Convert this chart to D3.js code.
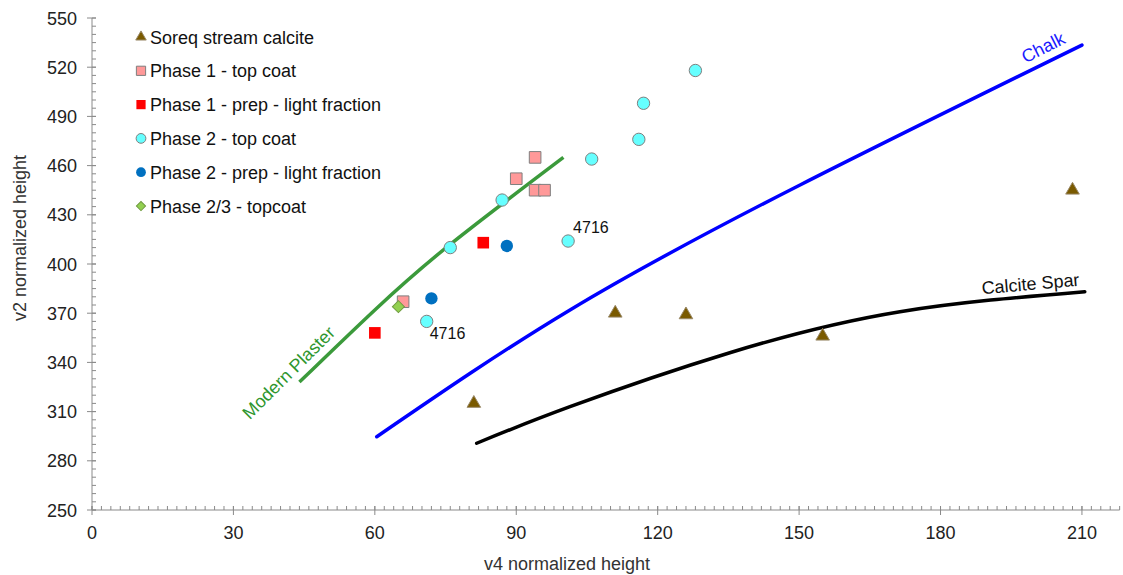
<!DOCTYPE html>
<html lang="en">
<head>
<meta charset="UTF-8">
<title>v2 vs v4 normalized height</title>
<script src="https://d3js.org/d3.v7.min.js"></script>
<style>
  body { margin: 0; background: #fff; font-family: "Liberation Sans", Arial, sans-serif; }
  .tick-label { font-size: 18px; fill: #222; }
  .axis-title { font-size: 18px; fill: #333; }
  .legend text { font-size: 18px; fill: #111; }
</style>
</head>
<body>
<svg width="1123" height="575"></svg>
<script>
// data: [v4, v2]
var soreq      = [[81, 315], [111, 370], [126, 369], [155, 356], [208, 445]];
var p1Top      = [[94, 465], [90, 452], [94, 445], [96, 445], [66, 377]];
var p1Prep     = [[60, 358], [83, 413]];
var p2Top      = [[128, 518], [117, 498], [116, 476], [106, 464], [87, 439], [76, 410], [101, 414], [71, 365]];
var p2Prep     = [[88, 411], [72, 379]];
var p23Top     = [[65, 374]];
var labelled   = [[101, 414, "4716", 5, -8], [71, 365, "4716", 3, 18]];

var plasterCurve = [[44, 328], [60, 372], [76, 412], [100, 465]];
var chalkCurve   = [[60.4, 294.7], [101.4, 372], [150.2, 448.2], [210, 533.5]];
var sparCurve    = [[81.6, 290.7], [101.4, 313], [135.3, 345.9], [171.4, 370.9], [210.6, 383.1]];

var xTicks = [0, 30, 60, 90, 120, 150, 180, 210];
var yTicks = [250, 280, 310, 340, 370, 400, 430, 460, 490, 520, 550];

var svg = d3.select("svg");

var x = d3.scaleLinear().domain([0, 218]).range([92, 92 + 218 * 4.714]);
var y = d3.scaleLinear().domain([250, 550]).range([510, 18]);

var axisColor = "#8a8a8a";
var ax = svg.append("g");

// y axis
ax.append("line").attr("x1", x(0)).attr("x2", x(0)).attr("y1", y(250)).attr("y2", y(550))
    .attr("stroke", axisColor);
ax.selectAll(".ymin").data(d3.range(250, 551, 5)).enter().append("line")
    .attr("x1", x(0)).attr("x2", x(0) + 4)
    .attr("y1", function(d) { return y(d); }).attr("y2", function(d) { return y(d); })
    .attr("stroke", axisColor);
ax.selectAll(".ymaj").data(yTicks).enter().append("line")
    .attr("x1", x(0) - 5).attr("x2", x(0) + 4)
    .attr("y1", function(d) { return y(d); }).attr("y2", function(d) { return y(d); })
    .attr("stroke", axisColor);
ax.selectAll(".ylab").data(yTicks).enter().append("text")
    .attr("class", "tick-label")
    .attr("x", x(0) - 15).attr("y", function(d) { return y(d) + 6.5; })
    .attr("text-anchor", "end")
    .text(function(d) { return d; });

// x axis
ax.append("line").attr("x1", x(0)).attr("x2", x(218)).attr("y1", y(250)).attr("y2", y(250))
    .attr("stroke", axisColor);
ax.selectAll(".xmin").data(d3.range(0, 219, 2)).enter().append("line")
    .attr("x1", function(d) { return x(d); }).attr("x2", function(d) { return x(d); })
    .attr("y1", y(250) - 4).attr("y2", y(250))
    .attr("stroke", axisColor);
ax.selectAll(".xmaj").data(xTicks).enter().append("line")
    .attr("x1", function(d) { return x(d); }).attr("x2", function(d) { return x(d); })
    .attr("y1", y(250) - 4).attr("y2", y(250) + 5)
    .attr("stroke", axisColor);
ax.selectAll(".xlab").data(xTicks).enter().append("text")
    .attr("class", "tick-label")
    .attr("x", function(d) { return x(d); }).attr("y", y(250) + 29)
    .attr("text-anchor", "middle")
    .text(function(d) { return d; });

svg.append("text").attr("class", "axis-title")
    .attr("x", 567).attr("y", 570).attr("text-anchor", "middle")
    .text("v4 normalized height");
svg.append("text").attr("class", "axis-title")
    .attr("transform", "translate(26,238) rotate(-90)").attr("text-anchor", "middle")
    .text("v2 normalized height");

// reference curves
var line = d3.line()
    .x(function(d) { return x(d[0]); })
    .y(function(d) { return y(d[1]); })
    .curve(d3.curveNatural);

svg.append("path").datum(plasterCurve).attr("d", line)
    .attr("fill", "none").attr("stroke", "#3b9a3b").attr("stroke-width", 3.5);
svg.append("path").datum(chalkCurve).attr("d", line)
    .attr("fill", "none").attr("stroke", "#0000ff").attr("stroke-width", 3.5).attr("stroke-linecap", "round");
svg.append("path").datum(sparCurve).attr("d", line)
    .attr("fill", "none").attr("stroke", "#000").attr("stroke-width", 3.5).attr("stroke-linecap", "round");

svg.append("text").attr("transform", "translate(293,377) rotate(-45)")
    .attr("text-anchor", "middle").attr("font-size", 18).attr("fill", "#2e962e")
    .text("Modern Plaster");
svg.append("text").attr("transform", "translate(1046,53) rotate(-27)")
    .attr("text-anchor", "middle").attr("font-size", 18).attr("fill", "#1a1aff")
    .text("Chalk");
svg.append("text").attr("transform", "translate(1031,290) rotate(-5)")
    .attr("text-anchor", "middle").attr("font-size", 18).attr("fill", "#111")
    .text("Calcite Spar");

// series
var series = [
    { name: "Soreq stream calcite", data: soreq, shape: d3.symbolTriangle, size: 80, legSize: 48, fill: "#7a5a00", stroke: "#9a8a6a" },
    { name: "Phase 1 - top coat", data: p1Top, shape: d3.symbolSquare, size: 135, legSize: 85, fill: "#ff9999", stroke: "#7f7f7f" },
    { name: "Phase 1 - prep - light fraction", data: p1Prep, shape: d3.symbolSquare, size: 135, legSize: 85, fill: "#ff0000", stroke: "none" },
    { name: "Phase 2 - top coat", data: p2Top, shape: d3.symbolCircle, size: 120, legSize: 75, fill: "#66ffff", stroke: "#7f7f7f" },
    { name: "Phase 2 - prep - light fraction", data: p2Prep, shape: d3.symbolCircle, size: 120, legSize: 75, fill: "#0070c0", stroke: "none" },
    { name: "Phase 2/3 - topcoat", data: p23Top, shape: d3.symbolSquare, size: 72, legSize: 42, fill: "#92d050", stroke: "#6f9a40", rot: 45 }
];

series.forEach(function(s) {
    var sym = d3.symbol().type(s.shape).size(s.size);
    svg.append("g").selectAll("path").data(s.data).enter().append("path")
        .attr("d", sym)
        .attr("transform", function(d) {
            return "translate(" + x(d[0]) + "," + y(d[1]) + ")" + (s.rot ? " rotate(" + s.rot + ")" : "");
        })
        .attr("fill", s.fill)
        .attr("stroke", s.stroke)
        .attr("stroke-width", 1);
});

svg.append("g").selectAll("text").data(labelled).enter().append("text")
    .attr("x", function(d) { return x(d[0]) + d[3]; })
    .attr("y", function(d) { return y(d[1]) + d[4]; })
    .attr("font-size", 16).attr("fill", "#111")
    .text(function(d) { return d[2]; });

// legend
var legend = svg.append("g").attr("class", "legend");
series.forEach(function(s, i) {
    var ly = 37 + i * 33.8;
    legend.append("path")
        .attr("d", d3.symbol().type(s.shape).size(s.legSize))
        .attr("transform", "translate(141," + ly + ")" + (s.rot ? " rotate(" + s.rot + ")" : ""))
        .attr("fill", s.fill).attr("stroke", s.stroke).attr("stroke-width", 1);
    legend.append("text").attr("x", 150).attr("y", ly + 6.5).text(s.name);
});
</script>
</body>
</html>
